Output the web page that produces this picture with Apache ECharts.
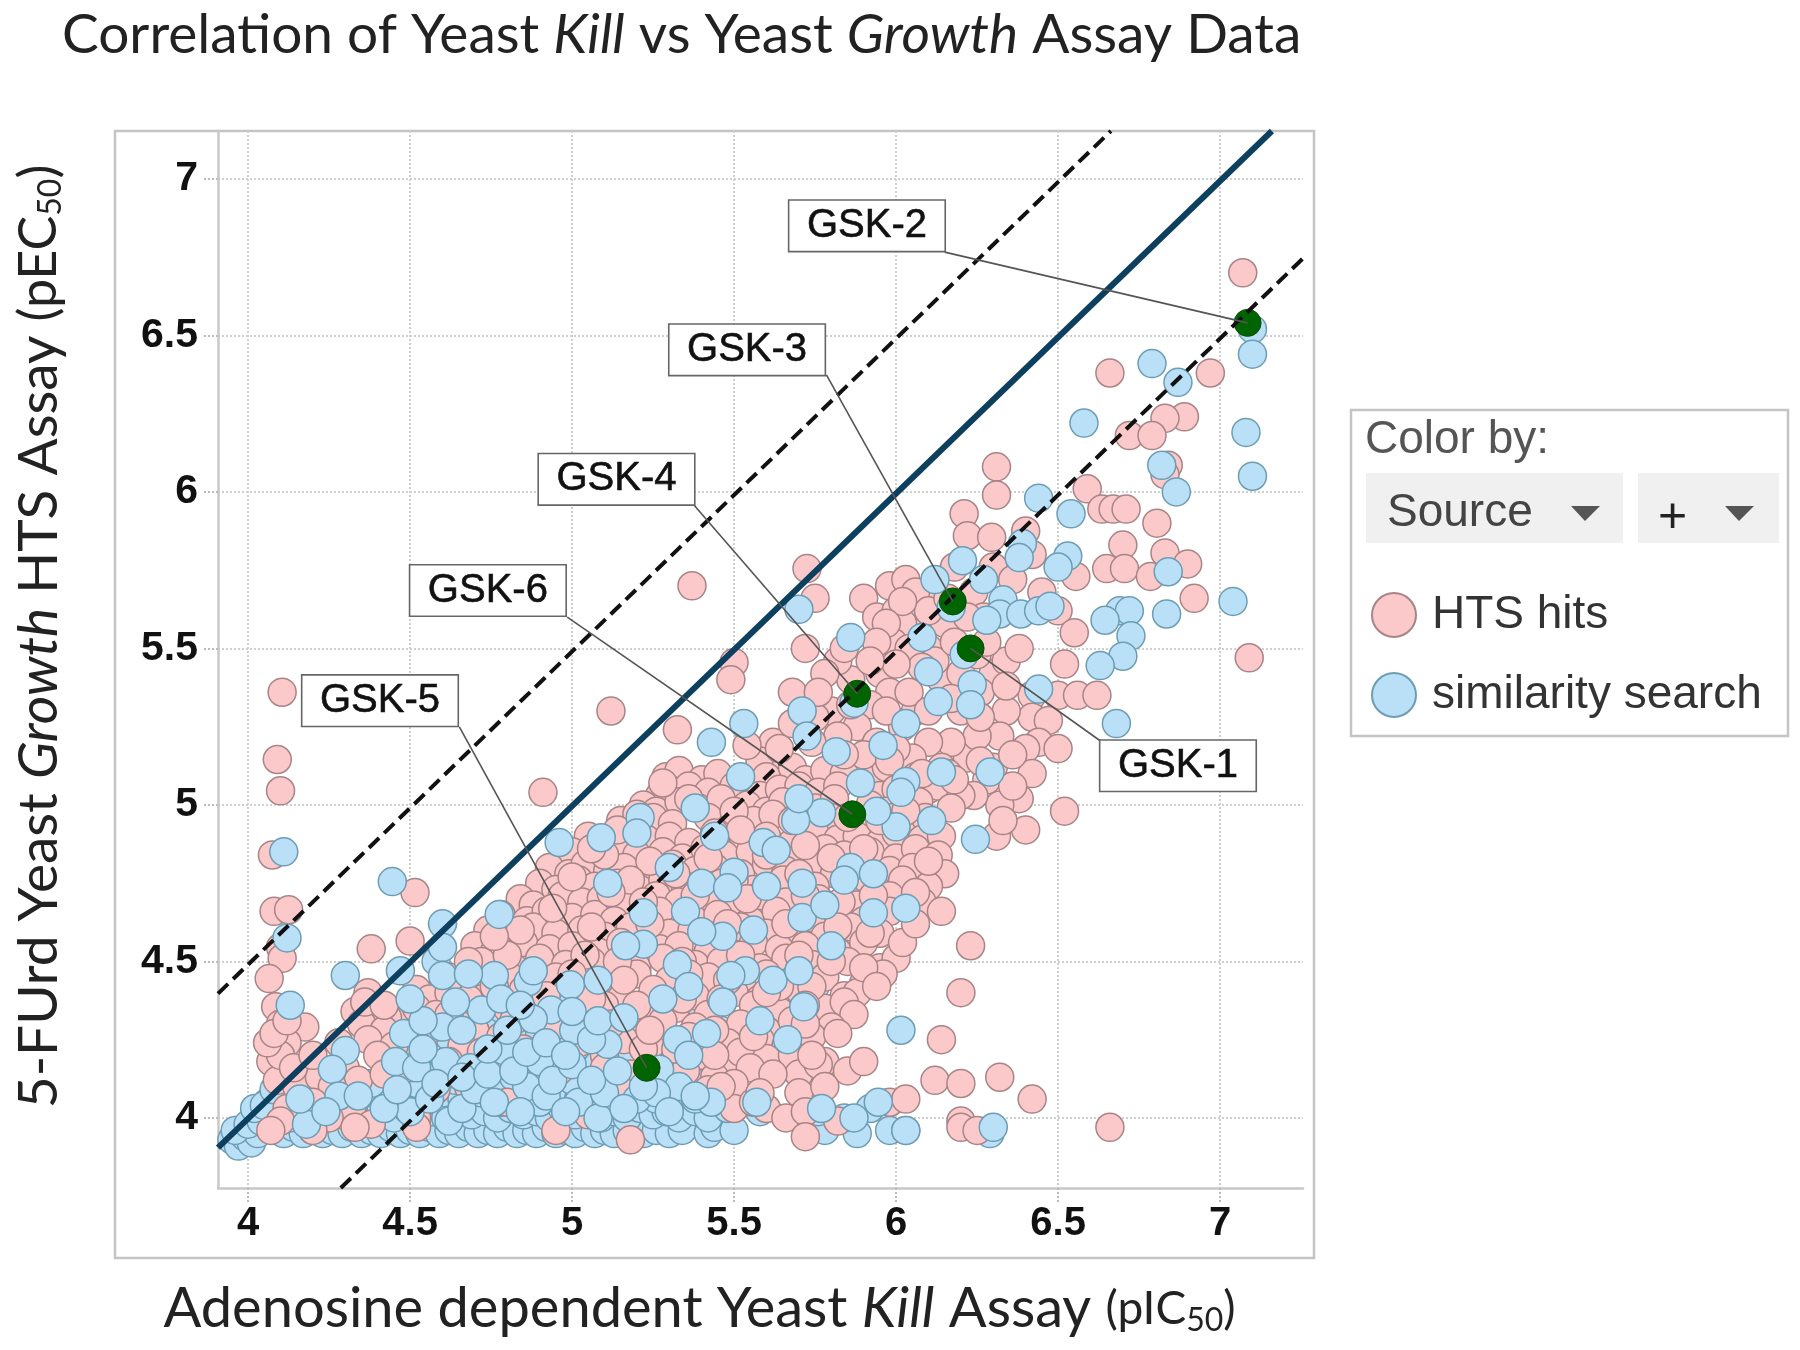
<!DOCTYPE html>
<html>
<head>
<meta charset="utf-8">
<title>Yeast Kill vs Growth</title>
<style>
  html, body { margin: 0; background: #fff; }
  #chart { width: 1800px; height: 1350px; }
</style>
<script src="https://cdn.jsdelivr.net/npm/echarts@6/dist/echarts.min.js"></script>
</head>
<body>
<div id="chart"></div>
<script>
// values, [kill pIC50, growth pEC50]
const similarityBack = [
  [3.95,3.93],[3.97,3.91],[3.99,3.94],[4.01,3.92],[4.03,3.95],[3.96,3.96],[4.0,3.98],[4.04,3.99],[4.02,4.03],[4.06,4.05],
  [4.08,3.96],[4.11,3.95],[4.14,3.97],[4.17,3.95],[4.2,3.96],[4.23,3.95],[4.26,3.96],[4.29,3.95],[4.32,3.97],[4.35,3.95],
  [4.38,3.96],[4.41,3.95],[4.44,3.97],[4.47,3.95],[4.5,3.96],[4.53,3.95],[4.56,3.97],[4.59,3.95],[4.62,3.96],[4.65,3.95],
  [4.68,3.97],[4.71,3.95],[4.74,3.96],[4.77,3.95],[4.8,3.97],[4.83,3.95],[4.86,3.96],[4.89,3.95],[4.92,3.97],[4.95,3.95],
  [4.98,3.96],[5.01,3.95],[5.04,3.97],[5.07,3.95],[5.1,3.96],[5.13,3.95],[5.17,3.96],[5.22,3.95],[5.26,3.96],[5.3,3.95],
  [5.34,3.96],[5.42,3.95],[5.44,3.97],[5.5,3.96],[5.78,3.96],[5.88,3.95],[5.98,3.96],[6.03,3.96],[6.29,3.95],
  [4.09,4.01],[4.13,4.0],[4.17,4.02],[4.21,4.0],[4.25,4.03],[4.29,4.01],[4.33,4.03],[4.37,4.0],[4.41,4.02],[4.45,4.0],
  [4.49,4.03],[4.53,4.01],[4.57,4.02],[4.61,4.0],[4.65,4.03],[4.69,4.01],[4.73,4.02],[4.77,4.0],[4.81,4.03],[4.85,4.01],
  [4.89,4.02],[4.93,4.0],[4.97,4.03],[5.01,4.01],[5.05,4.03],[5.09,4.0],[5.13,4.02],[5.17,4.0],[5.21,4.03],[5.25,4.01],
  [5.29,4.02],[5.33,4.0],[5.38,4.02],[5.42,4.0],[5.48,4.03],[5.58,4.02],[5.76,4.02],[5.84,4.0],[5.92,4.03],
  [4.12,4.07],[4.18,4.06],[4.24,4.08],[4.3,4.05],[4.36,4.08],[4.42,4.06],[4.48,4.07],[4.54,4.05],[4.6,4.08],[4.66,4.06],
  [4.72,4.08],[4.78,4.05],[4.84,4.07],[4.9,4.05],[4.96,4.08],[5.02,4.06],[5.08,4.07],[5.14,4.05],[5.2,4.08],[5.26,4.06],
  [5.32,4.07],[5.38,4.06],[5.44,4.08],
  [4.16,4.12],[4.26,4.13],[4.38,4.11],[4.46,4.13],[4.52,4.11],[4.58,4.13],[4.64,4.12],[4.7,4.14],[4.76,4.11],[4.82,4.13],
  [4.88,4.11],[4.94,4.14],[5.0,4.12],[5.06,4.13],[5.12,4.11],[5.18,4.14],[5.24,4.1],[5.3,4.12],[5.36,4.13],
  [4.48,4.19],[4.54,4.17],[4.6,4.2],[4.66,4.18],[4.72,4.2],[4.78,4.17],[4.84,4.19],[4.9,4.21],[4.96,4.18],[5.02,4.2],[5.08,4.17],
  [5.16,4.2],[5.26,4.19],[4.42,4.25],[4.56,4.25],[4.62,4.26],[4.68,4.24],[4.74,4.27],[4.82,4.25],[4.9,4.27],[5.0,4.26],
  [4.5,4.32],[4.58,4.34],[4.64,4.32],[4.72,4.31],[4.78,4.35],[4.85,4.33],[4.92,4.31],[5.02,4.36],[5.12,4.34],[5.24,4.33],
  [4.52,4.4],[4.6,4.42],[4.7,4.41],[4.78,4.39],[4.88,4.42],[5.0,4.4],[5.14,4.43],[5.3,4.42],[5.38,4.36],[5.46,4.28],[5.6,4.2],
  [4.58,4.5],[4.12,4.34],[4.05,4.04],[4.08,4.09],[5.42,4.53],[5.56,4.38],[5.75,4.42],[5.7,4.6],[5.6,4.63],[5.5,4.68]
];

const htsHits = [
  [7.07,6.7],[6.66,6.38],[6.97,6.38],[6.89,6.24],[6.83,6.235],[6.72,6.18],[6.79,6.18],[6.84,6.085],[6.83,6.055],[6.31,6.08],
  [6.31,5.99],[6.59,6.01],[6.635,5.945],[6.67,5.945],[6.71,5.945],[6.805,5.9],[6.21,5.93],[6.22,5.86],[6.295,5.855],[6.4,5.875],
  [6.7,5.83],[6.83,5.805],[6.9,5.77],[6.65,5.755],[6.705,5.755],[6.785,5.73],[6.555,5.73],[6.92,5.66],[7.09,5.47],[5.37,5.7],
  [5.725,5.755],[5.75,5.66],[5.12,5.3],[5.325,5.24],[5.5,5.455],[5.49,5.4],[4.105,5.36],[4.09,5.145],[4.1,5.045],[4.075,4.84],
  [4.91,5.04],[4.515,4.72],[4.08,4.66],[4.125,4.665],[4.1,4.545],[4.105,4.51],[4.065,4.445],[4.085,4.355],[4.175,4.29],[4.1,4.3],
  [4.38,4.54],[4.5,4.565],[4.37,4.4],[4.52,4.41],[4.56,4.38],[4.5,4.33],[4.43,4.32],[4.33,4.34],[4.12,4.24],[4.07,4.18],
  [4.09,4.12],[4.15,4.1],[4.22,4.13],[4.3,4.16],[4.34,4.12],[4.26,4.1],
  [5.9,5.66],[5.94,5.6],[5.98,5.7],[6.0,5.62],[6.03,5.72],[6.05,5.63],[6.08,5.55],[6.02,5.58],[5.99,5.52],[6.12,5.68],
  [6.15,5.58],[6.1,5.5],[6.18,5.76],[6.24,5.68],[6.27,5.6],[6.3,5.76],[6.36,5.72],[6.42,5.8],[6.45,5.68],[6.5,5.62],
  [6.55,5.55],[6.52,5.45],[6.5,5.35],[6.56,5.35],[6.62,5.35],[6.42,5.35],[6.42,5.28],[6.47,5.27],[6.44,5.2],[6.34,5.3],
  [6.32,5.22],[6.3,5.12],[6.4,5.18],[6.42,5.1],[6.5,5.18],[6.38,5.02],[6.32,5.0],[6.28,5.08],[6.24,5.03],[6.22,5.15],
  [6.25,5.22],[6.2,5.3],[6.17,5.2],[6.14,5.12],[6.1,5.2],[6.1,5.05],[6.06,5.3],[6.02,5.25],[6.05,5.15],[6.52,4.98],
  [6.4,4.92],[6.31,4.9],[6.33,4.95],[6.36,5.06],[6.14,5.4],[6.2,5.42],[6.3,5.42],[6.34,5.46],[6.38,5.5],[6.26,5.36],
  [5.95,5.42],[5.98,5.36],[5.92,5.32],[5.86,5.4],[5.82,5.46],[5.78,5.42],[5.72,5.5],[5.68,5.36],[5.8,5.3],[5.88,5.25],
  [5.94,5.2],[6.0,5.18],[5.75,5.28],[5.62,5.2],[5.58,5.14],[5.66,5.12],
  [5.29,5.09],[5.33,5.11],[5.4,5.08],[5.45,5.1],[5.6,5.09],[5.68,5.12],[5.72,5.08],[5.78,5.11],[5.84,5.1],[5.92,5.08],
  [5.97,5.12],[6.06,5.09],[6.16,5.1],[5.3,5.05],[5.27,5.03],[5.36,5.06],[5.42,5.04],[5.5,5.06],[5.58,5.03],[5.64,5.05],
  [5.7,5.06],[5.76,5.04],[5.82,5.06],[5.95,5.03],[6.0,5.05],[6.07,5.04],[6.13,5.06],[6.2,5.03],[5.22,5.0],[5.26,4.98],
  [5.33,5.01],[5.39,4.99],[5.46,5.02],[5.54,5.0],[5.6,4.98],[5.65,5.01],[5.75,4.99],[5.81,5.02],[5.92,5.0],[5.97,4.98],
  [6.07,5.01],[6.17,4.99],[5.15,4.95],[5.19,4.93],[5.25,4.96],[5.31,4.94],[5.42,4.96],[5.49,4.93],[5.56,4.95],[5.62,4.97],
  [5.73,4.94],[5.8,4.96],[5.9,4.93],[5.99,4.96],[6.02,4.94],[6.09,4.96],[5.05,4.9],[5.12,4.88],[5.17,4.91],[5.23,4.89],
  [5.3,4.9],[5.36,4.88],[5.44,4.91],[5.53,4.89],[5.6,4.9],[5.68,4.88],[5.75,4.91],[5.82,4.89],[5.88,4.9],[5.95,4.88],
  [6.0,4.91],[6.08,4.89],[6.14,4.9],[5.0,4.85],[5.06,4.83],[5.13,4.86],[5.2,4.84],[5.28,4.85],[5.34,4.83],[5.41,4.86],
  [5.47,4.84],[5.55,4.85],[5.7,4.83],[5.78,4.86],[5.84,4.84],[5.92,4.85],[6.0,4.83],[6.06,4.86],[6.13,4.84],[4.93,4.8],
  [4.99,4.78],[5.04,4.81],[5.11,4.79],[5.16,4.8],[5.24,4.78],[5.31,4.81],[5.38,4.79],[5.44,4.8],[5.52,4.78],[5.6,4.81],
  [5.66,4.79],[5.74,4.8],[5.81,4.78],[5.89,4.81],[5.98,4.79],[6.05,4.8],[6.15,4.78],[4.9,4.75],[4.95,4.73],[5.02,4.76],
  [5.07,4.74],[5.14,4.75],[5.21,4.73],[5.28,4.76],[5.35,4.74],[5.46,4.75],[5.56,4.73],[5.65,4.76],[5.75,4.74],[5.85,4.75],
  [5.94,4.73],[6.02,4.76],[6.1,4.74],[4.84,4.7],[4.88,4.68],[4.97,4.71],[5.03,4.69],[5.09,4.7],[5.17,4.68],[5.26,4.71],
  [5.33,4.69],[5.42,4.7],[5.5,4.68],[5.58,4.71],[5.66,4.69],[5.76,4.7],[5.88,4.68],[5.98,4.71],[6.08,4.69],[6.14,4.66],
  [4.78,4.65],[4.86,4.63],[4.92,4.66],[5.0,4.64],[5.07,4.65],[5.13,4.63],[5.27,4.66],[5.37,4.64],[5.45,4.65],[5.55,4.63],
  [5.63,4.66],[5.74,4.64],[5.82,4.65],[5.9,4.63],[5.98,4.66],[4.74,4.6],[4.8,4.58],[4.88,4.61],[4.95,4.59],[5.03,4.6],
  [5.1,4.58],[5.18,4.61],[5.3,4.59],[5.37,4.6],[5.44,4.58],[5.52,4.61],[5.6,4.59],[5.68,4.6],[5.78,4.58],[5.86,4.61],
  [5.95,4.59],[4.7,4.55],[4.76,4.53],[4.85,4.56],[4.93,4.54],[5.0,4.55],[5.08,4.53],[5.15,4.56],[5.27,4.54],[5.33,4.55],
  [5.42,4.53],[5.56,4.56],[5.64,4.54],[5.72,4.55],[5.82,4.53],[5.9,4.56],[6.23,4.55],[4.72,4.5],[4.82,4.48],[4.9,4.51],
  [4.98,4.49],[5.06,4.5],[5.2,4.48],[5.28,4.51],[5.38,4.49],[5.46,4.5],[5.58,4.48],[5.66,4.51],[5.74,4.49],[5.85,4.5],
  [5.95,4.48],[6.0,4.51],[4.62,4.45],[4.68,4.43],[4.8,4.46],[4.88,4.44],[4.95,4.45],[5.1,4.43],[5.2,4.46],[5.3,4.44],
  [5.42,4.45],[5.54,4.43],[5.6,4.46],[5.68,4.44],[5.78,4.45],[5.9,4.43],[5.96,4.46],[4.62,4.4],[4.72,4.38],[4.85,4.41],
  [4.92,4.39],[5.03,4.4],[5.15,4.38],[5.25,4.41],[5.38,4.39],[5.5,4.4],[5.58,4.38],[5.7,4.41],[5.84,4.39],[5.88,4.4],
  [6.2,4.4],[4.52,4.35],[4.58,4.33],[4.65,4.36],[4.7,4.34],[4.8,4.35],[4.98,4.33],[5.1,4.36],[5.22,4.34],[5.32,4.35],
  [5.42,4.33],[5.56,4.36],[5.64,4.34],[5.78,4.35],[5.84,4.37],[5.87,4.33],[4.35,4.3],[4.42,4.28],[4.58,4.29],[4.7,4.28],
  [4.82,4.31],[4.94,4.29],[5.05,4.3],[5.18,4.28],[5.28,4.31],[5.38,4.29],[5.52,4.3],[5.6,4.28],[5.68,4.31],[5.8,4.29],
  [4.37,4.25],[4.45,4.23],[4.54,4.24],[4.66,4.23],[4.78,4.26],[5.02,4.24],[5.16,4.25],[5.24,4.23],[5.36,4.26],[5.48,4.24],
  [5.58,4.25],[5.66,4.23],[5.74,4.26],[6.14,4.25],[4.4,4.2],[4.62,4.18],[4.72,4.21],[4.85,4.22],[5.1,4.2],[5.22,4.22],
  [5.4,4.2],[5.48,4.18],[5.52,4.21],[5.6,4.19],[5.68,4.2],[5.78,4.18],[4.42,4.14],[4.5,4.16],[4.62,4.14],[4.78,4.17],
  [4.96,4.15],[5.1,4.16],[5.18,4.14],[5.35,4.15],[5.44,4.13],[5.55,4.16],[5.7,4.14],[5.76,4.17],[5.85,4.15],[4.58,4.09],
  [4.68,4.1],[5.08,4.08],[5.14,4.1],[5.42,4.09],[5.5,4.11],[5.7,4.08],[5.78,4.1],[6.12,4.12],[6.2,4.11],[6.32,4.13],
  [4.12,4.03],[4.2,4.05],[4.32,4.03],[4.8,4.05],[5.5,4.03],[5.56,4.05],[5.6,4.03],[5.98,4.05],[6.03,4.06],[6.42,4.06],
  [4.1,3.99],[4.25,4.0],[4.38,3.98],[4.52,4.0],[5.05,4.01],[5.66,4.0],[5.72,4.02],[5.82,3.99],[6.2,3.99],[4.07,3.96],
  [4.2,3.96],[4.33,3.97],[4.52,3.97],[4.95,3.96],[5.18,3.93],[5.72,3.94],[6.2,3.97],[6.25,3.96],[6.66,3.97],
  // denser core
  [5.36,5.02],[5.5,4.98],[5.68,4.95],[5.85,4.96],[5.95,4.95],[6.03,4.98],[5.52,4.92],[5.72,4.87],[5.9,4.86],[5.1,4.84],
  [5.24,4.82],[5.42,4.83],[5.6,4.84],[5.8,4.83],[6.1,4.82],[5.0,4.77],[5.18,4.76],[5.32,4.78],[5.5,4.76],[5.7,4.78],
  [5.9,4.77],[6.06,4.72],[4.94,4.67],[5.12,4.72],[5.22,4.69],[5.38,4.71],[5.54,4.7],[5.72,4.71],[5.83,4.69],[5.93,4.71],
  [4.84,4.6],[5.06,4.61],[5.24,4.62],[5.48,4.62],[5.66,4.62],[5.82,4.61],[5.92,4.59],[4.8,4.52],[5.04,4.52],[5.14,4.5],
  [5.34,4.5],[5.52,4.52],[5.7,4.52],[5.8,4.5],[5.9,4.48],[5.0,4.46],[5.16,4.44],[5.36,4.46],[5.48,4.44],[5.64,4.42],
  [5.74,4.42],[5.06,4.38],[5.2,4.36],[5.34,4.38],[5.46,4.38],[5.6,4.4],[5.72,4.36],[5.12,4.3],[5.24,4.28],[5.44,4.28],
  [5.56,4.26],[5.72,4.3],[5.32,4.22],[5.44,4.2],[5.62,4.14],[5.74,4.2],[5.46,4.1],[5.58,4.08],[5.9,4.18],[5.82,4.27],
  [5.94,4.42],[6.02,4.56],[6.06,4.62],[5.28,5.07],[5.2,4.97],[5.14,4.92],[5.06,4.86],
  // cluster round GSK-1, -3 and -4
  [6.06,5.68],[6.1,5.62],[6.02,5.65],[5.97,5.58],[5.94,5.52],[6.04,5.5],[6.12,5.46],[6.18,5.52],[6.25,5.48],[6.28,5.52],
  [6.16,5.66],[6.22,5.6],[6.08,5.44],[6.0,5.45],[5.92,5.46],[5.97,5.3],[6.04,5.36],[6.1,5.3],[6.17,5.34],[6.26,5.28],
  [6.34,5.38],[6.36,5.16],[6.26,5.14],[6.18,5.08],[5.86,5.32],[5.82,5.22],[5.9,5.16],[5.84,5.16],[5.74,5.2],[5.68,5.26],
  [5.76,5.36],[5.84,5.5],[5.64,5.18],[5.54,5.19],[5.98,5.14],[6.08,5.1],
  // far left column and low shoulder
  [4.1,4.2],[4.06,4.24],[4.14,4.16],[4.08,4.27],[4.12,4.31],[4.2,4.2],[4.28,4.24],[4.36,4.37],[4.42,4.36],[4.62,4.33],
  [4.68,4.38],[4.76,4.42],[4.68,4.5],[4.76,4.58]
];

const similarityFront = [
  [7.1,6.52],[7.1,6.44],[6.79,6.41],[6.87,6.35],[6.58,6.22],[7.08,6.19],[7.1,6.05],[6.82,6.085],[6.865,6.0],[6.44,5.98],
  [6.54,5.93],[6.39,5.835],[6.38,5.79],[6.53,5.795],[6.5,5.76],[6.84,5.745],[7.04,5.65],[6.835,5.61],[6.69,5.62],[6.72,5.62],
  [6.645,5.59],[6.725,5.54],[6.7,5.475],[6.63,5.445],[6.68,5.26],[6.44,5.37],[6.205,5.78],[6.12,5.72],[6.17,5.63],[6.27,5.72],
  [6.33,5.655],[6.32,5.61],[6.385,5.61],[6.28,5.59],[6.44,5.62],[6.475,5.635],[6.235,5.385],[6.23,5.32],[6.1,5.425],[6.13,5.33],
  [6.21,5.48],[6.08,5.535],[5.7,5.625],[5.86,5.535],[5.71,5.3],[5.43,5.2],[5.53,5.26],[5.52,5.09],[5.725,5.22],[5.815,5.17],
  [5.89,5.07],[5.87,5.325],[6.03,5.26],[5.96,5.19],[6.14,5.105],[6.29,5.105],[6.03,5.075],[6.015,5.04],[6.0,4.93],[6.11,4.95],
  [6.245,4.89],[5.77,4.975],[5.69,4.95],[5.38,4.99],[5.21,4.96],[5.09,4.895],[4.96,4.88],[5.59,4.88],[5.86,4.8],[5.93,4.78],
  [6.03,4.67],[5.93,4.655],[5.84,4.76],[5.71,4.75],[5.63,4.855],[5.5,4.785],[5.4,4.75],[5.48,4.735],[5.71,4.64],[5.465,4.58],
  [5.535,4.47],[6.015,4.28],[5.35,4.66],[5.4,4.595],[5.325,4.49],[5.49,4.455],[5.465,4.37],[5.715,4.355],[5.665,4.25],[5.22,4.555],
  [5.165,4.55],[5.11,4.75],[5.2,4.91],[5.22,4.655],[4.445,4.755],[4.11,4.85],[4.12,4.575],[4.3,4.455],[4.6,4.62],[4.47,4.47],
  [4.6,4.545],[4.6,4.455],[4.775,4.65],[4.76,4.455],[4.865,4.435],[4.995,4.425],[4.935,4.345],[5.005,4.28],[4.88,4.315],[5.11,4.235],
  [4.72,4.345],[4.6,4.29],[4.48,4.27],[4.13,4.36],[4.3,4.215],[4.26,4.155],[4.455,4.18],[4.61,4.18],[4.685,4.16],[4.79,4.215],
  [4.9,4.18],[5.27,4.155],[5.325,4.25],[5.415,4.27],[5.43,4.05],[5.57,4.05],[5.77,4.03],[5.87,4.0],[5.945,4.05],[6.03,3.96],
  [6.3,3.97],[4.28,4.07],[4.18,3.98],[4.5,4.02],[4.62,3.99],[4.86,4.1],[5.02,4.05],[5.08,4.0],[5.2,4.06],[5.33,4.1],
  // lower left, blue on top of the pink
  [4.16,4.06],[4.24,4.02],[4.34,4.07],[4.42,4.03],[4.46,4.09],[4.56,4.06],[4.66,4.03],[4.7,4.09],[4.76,4.05],[4.84,4.02],
  [4.92,4.07],[4.98,4.02],[5.1,4.08],[5.16,4.03],[5.26,4.08],[5.3,4.02],[5.38,4.07],[4.52,4.16],[4.58,4.11],[4.66,4.13],
  [4.74,4.14],[4.82,4.15],[4.86,4.21],[4.94,4.12],[5.0,4.17],[5.06,4.12],[5.14,4.15],[5.22,4.1],[5.36,4.2],[4.54,4.22],
  [4.66,4.28],[4.74,4.22],[4.8,4.28],[4.92,4.24],[4.98,4.2],[5.06,4.25],[4.54,4.31],[4.64,4.37],[4.78,4.38],[4.84,4.36],
  [5.0,4.34],[5.08,4.31],[5.16,4.32],[4.5,4.38],[4.68,4.46],[4.88,4.47],[5.08,4.44],[5.28,4.38],[5.36,4.42],[5.58,4.31],
  [5.62,4.44],[5.7,4.47],[5.8,4.55],[5.56,4.6],[5.6,4.74],[5.78,4.68],[5.3,4.8],[5.44,4.9],[5.7,5.02],[5.94,4.98]
];

const gskNames = ['GSK-1', 'GSK-2', 'GSK-3', 'GSK-4', 'GSK-5', 'GSK-6'];
const gskX = [6.23, 7.085, 6.175, 5.88, 5.23, 5.865];
const gskY = [5.5, 6.54, 5.65, 5.355, 4.16, 4.97];
const labelX = [6.87, 5.91, 5.54, 5.137, 4.407, 4.74];
const labelY = [5.125, 6.85, 6.454, 6.04, 5.333, 5.685];
const leaderX = [6.63, 6.15, 5.785, 5.378, 4.652, 4.985];
const leaderY = [5.205, 6.766, 6.374, 5.956, 5.249, 5.6];

const unityLine = [[3.907, 3.905], [7.16, 7.153]];
const upperLine = [[3.907, 4.397], [6.663, 7.153]];
const lowerLine = [[4.286, 3.776], [7.256, 6.746]];

const xTicks = [4, 4.5, 5, 5.5, 6, 6.5, 7];
const yTicks = [4, 4.5, 5, 5.5, 6, 6.5, 7];

const PINK = { color: '#fbc9c9', borderColor: '#a88486', borderWidth: 1.5, opacity: 1 };
const BLUE = { color: '#bae0f8', borderColor: '#6d9db3', borderWidth: 1.5, opacity: 1 };
const DOT_SIZE = 28;
const HEADING_FONT = 'Lato';
const UI_FONT = '"Liberation Sans"';

const chart = echarts.init(document.getElementById('chart'));

function pointSeries(name, data, style, z) {
  return { name: name, type: 'scatter', data: data, symbolSize: DOT_SIZE, itemStyle: style, z: z, silent: true };
}
function refLine(data, color, width, type) {
  return {
    type: 'line', data: data, symbol: 'none', z: 5, silent: true, clip: true,
    lineStyle: { color: color, width: width, type: type }
  };
}

const axisCommon = {
  type: 'value',
  axisLine: { show: true, onZero: false, lineStyle: { color: '#c8c8c8', width: 2.5 } },
  splitLine: { show: true, lineStyle: { color: '#cfcfcf', type: 'dotted', width: 2 } }
};

chart.setOption({
  animation: false,
  backgroundColor: '#fff',
  title: {
    left: 57,
    top: 3,
    text: 'Correlation of Yeast {it|Kill} vs Yeast {it|Growth} Assay Data',
    textStyle: {
      fontFamily: HEADING_FONT, fontSize: 55, fontWeight: 'normal', color: '#222',
      rich: { it: { fontFamily: HEADING_FONT, fontSize: 55, fontStyle: 'italic', color: '#222' } }
    }
  },
  legend: {
    data: ['HTS hits', 'similarity search'],
    orient: 'vertical',
    left: 1366,
    top: 587,
    icon: 'circle',
    itemWidth: 44,
    itemHeight: 44,
    itemGap: 34,
    selectedMode: false,
    textStyle: { fontFamily: UI_FONT, fontSize: 46, color: '#333', padding: [0, 0, 0, 11] }
  },
  grid: { left: 218, top: 131, width: 1085, height: 1057, outerBoundsMode: 'none' },
  xAxis: Object.assign({}, axisCommon, {
    min: 3.907,
    max: 7.256,
    axisTick: { show: true, length: 14, customValues: xTicks, lineStyle: { color: '#bbb', type: 'dotted', width: 2 } },
    axisLabel: {
      customValues: xTicks, margin: 16, fontFamily: UI_FONT, fontWeight: 'bold', fontSize: 40, color: '#111'
    },
    name: 'Adenosine dependent Yeast {it|Kill} Assay {sm|(pIC}{sub|50}{sm|)}',
    nameLocation: 'middle',
    nameGap: 93,
    nameTextStyle: {
      fontFamily: HEADING_FONT, fontSize: 56, color: '#222', padding: [0, 122, 0, 0],
      rich: {
        it: { fontFamily: HEADING_FONT, fontSize: 56, fontStyle: 'italic', color: '#222' },
        sm: { fontFamily: HEADING_FONT, fontSize: 46, color: '#222' },
        sub: { fontFamily: HEADING_FONT, fontSize: 32, color: '#222', verticalAlign: 'bottom', padding: [18, 0, 0, 0] }
      }
    }
  }),
  yAxis: Object.assign({}, axisCommon, {
    min: 3.776,
    max: 7.153,
    axisTick: { show: true, length: 14, customValues: yTicks, lineStyle: { color: '#bbb', type: 'dotted', width: 2 } },
    axisLabel: {
      customValues: yTicks, margin: 20, fontFamily: UI_FONT, fontWeight: 'bold', fontSize: 41, color: '#111'
    },
    name: '5-FUrd Yeast {it|Growth} HTS Assay {sm|(pEC}{sub|50}{sm|)}',
    nameLocation: 'middle',
    nameRotate: 90,
    nameGap: 151,
    nameTextStyle: {
      fontFamily: HEADING_FONT, fontSize: 55, color: '#222', padding: [0, 0, 0, 46],
      rich: {
        it: { fontFamily: HEADING_FONT, fontSize: 55, fontStyle: 'italic', color: '#222' },
        sm: { fontFamily: HEADING_FONT, fontSize: 52, color: '#222' },
        sub: { fontFamily: HEADING_FONT, fontSize: 32, color: '#222', verticalAlign: 'bottom', padding: [18, 0, 0, 0] }
      }
    }
  }),
  graphic: [
    { type: 'rect', silent: true, z: -1, shape: { x: 115, y: 131, width: 1199, height: 1127 },
      style: { fill: '#fff', stroke: '#c4c4c4', lineWidth: 2.5 } },
    { type: 'rect', silent: true, z: -1, shape: { x: 1351, y: 410, width: 437, height: 326 },
      style: { fill: '#fff', stroke: '#c4c4c4', lineWidth: 2.5 } },
    { type: 'text', silent: true, x: 1365, y: 417,
      style: { text: 'Color by:', font: '46px "Liberation Sans"', fill: '#555' } },
    { type: 'rect', silent: true, shape: { x: 1366, y: 473, width: 257, height: 70 }, style: { fill: '#f0f0f0' } },
    { type: 'rect', silent: true, shape: { x: 1638, y: 473, width: 141, height: 70 }, style: { fill: '#f0f0f0' } },
    { type: 'text', silent: true, x: 1387, y: 490,
      style: { text: 'Source', font: '46px "Liberation Sans"', fill: '#444' } },
    { type: 'polygon', silent: true, shape: { points: [[1571, 506], [1600, 506], [1585, 521]] }, style: { fill: '#555' } },
    { type: 'polygon', silent: true, shape: { points: [[1725, 506], [1754, 506], [1739, 521]] }, style: { fill: '#555' } },
    { type: 'text', silent: true, x: 1658, y: 493,
      style: { text: '+', font: '50px "Liberation Sans"', fill: '#222' } }
  ],
  series: [
    pointSeries('similarity search', similarityBack, BLUE, 2),
    pointSeries('HTS hits', htsHits, PINK, 3),
    pointSeries('similarity search', similarityFront, BLUE, 3),
    {
      name: 'GSK compounds',
      type: 'scatter',
      z: 4,
      silent: true,
      symbolSize: 27,
      itemStyle: { color: '#006400', borderColor: '#0b4d0b', borderWidth: 1, opacity: 1 },
      data: gskX.map((x, i) => [x, gskY[i]])
    },
    refLine(unityLine, '#0d3f5f', 6, 'solid'),
    refLine(upperLine, '#111', 4, [14, 7]),
    refLine(lowerLine, '#111', 4, [14, 7]),
    {
      type: 'lines',
      coordinateSystem: 'cartesian2d',
      z: 6,
      silent: true,
      lineStyle: { color: '#555', width: 1.6, opacity: 1 },
      data: gskX.map((x, i) => ({ coords: [[leaderX[i], leaderY[i]], [x, gskY[i]]] }))
    },
    {
      type: 'scatter',
      z: 7,
      silent: true,
      symbolSize: 0,
      itemStyle: { opacity: 1 },
      data: labelX.map((x, i) => [x, labelY[i], gskNames[i]]),
      label: {
        show: true,
        position: 'inside',
        formatter: p => p.value[2],
        fontFamily: UI_FONT,
        fontSize: 40,
        color: '#111',
        textBorderColor: '#111',
        textBorderWidth: 0.6,
        backgroundColor: '#fff',
        borderColor: '#666',
        borderWidth: 1.6,
        width: 155,
        height: 50,
        lineHeight: 50,
        align: 'center',
        verticalAlign: 'middle'
      }
    }
  ]
});
</script>
</body>
</html>
